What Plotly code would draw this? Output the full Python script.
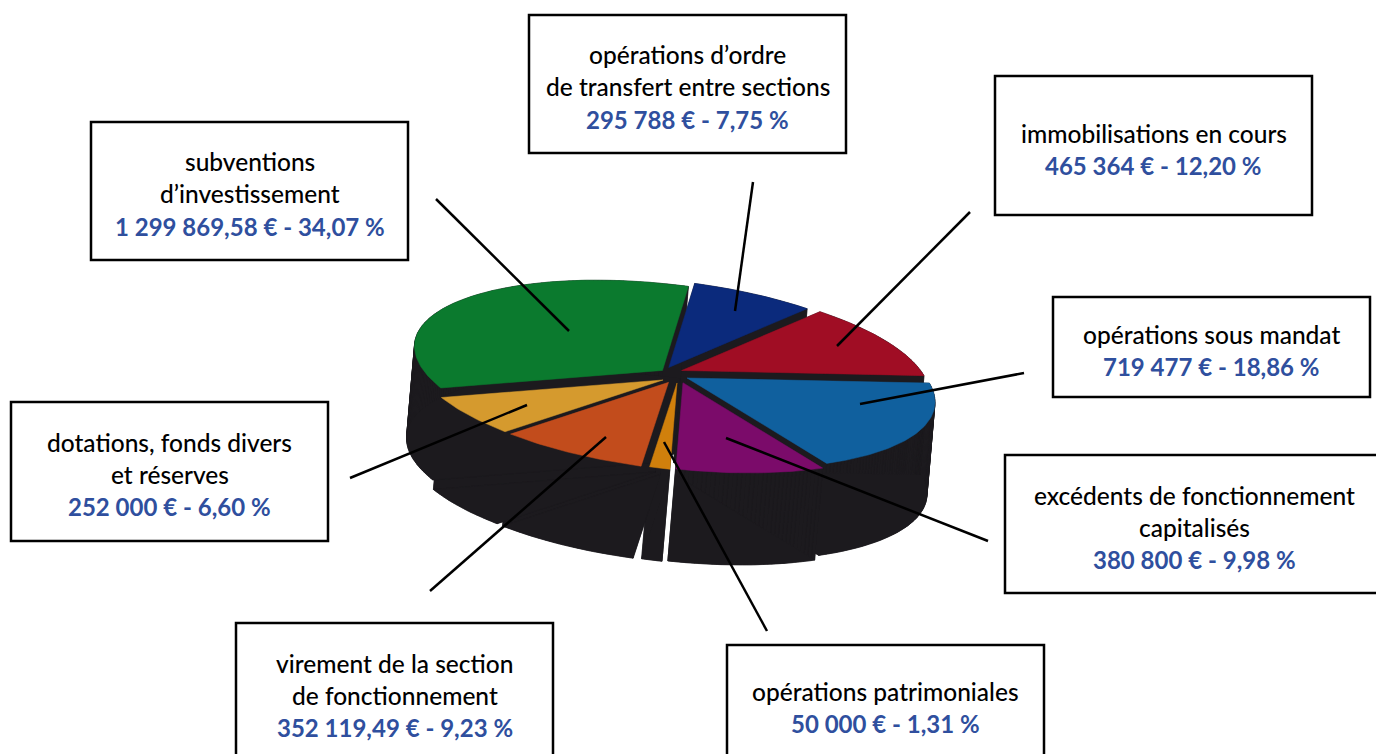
import math
import plotly.graph_objects as go

# --- data, clockwise from the top of the pie
categories = ["opérations d’ordre de transfert entre sections", "immobilisations en cours",
              "opérations sous mandat", "excédents de fonctionnement capitalisés",
              "opérations patrimoniales", "virement de la section de fonctionnement",
              "dotations, fonds divers et réserves", "subventions d’investissement"]
amounts = [295788, 465364, 719477, 380800, 50000, 352119.49, 252000, 1299869.58]
colors = ["#0b2a7c", "#a00d24", "#10609e", "#7b0b6a", "#d0800c", "#c24c1c", "#d59a2e", "#0b7a2e"]
WALL = "#1c1a1e"

# --- projection of the tilted, exploded disc
CX, CY = 674, 375
RX, RY, SHEAR = 248, 87, 0.097
DEPTH_X, DEPTH_Y = -8, 92
EXPL_X, EXPL_Y = 14, 8
START = 6.0
NUDGE_X = [-10, -4, 0, 5, 4, 0, 0, 0]  # per-slice horizontal explosion correction


def project(theta, ox, oy):
    t = math.radians(theta)
    x = RX * math.sin(t)
    y = -RY * math.cos(t) + SHEAR * x
    return CX + ox + x, CY + oy + y


fig = go.Figure()
total = sum(amounts)
tops = []
a0 = START
for value, color, nudge in zip(amounts, colors, NUDGE_X):
    sweep = 360 * value / total
    mid = math.radians(a0 + sweep / 2)
    ox, oy = EXPL_X * math.sin(mid) + nudge, -EXPL_Y * math.cos(mid)
    n = max(3, int(sweep))
    arc = [project(a0 + sweep * i / n, ox, oy) for i in range(n + 1)]
    apex = (CX + ox, CY + oy)
    top = [apex] + arc + [apex]
    low = [(x + DEPTH_X, y + DEPTH_Y) for x, y in top]
    # side wall: every edge of the top face swept down by the depth
    for (x1, y1), (x2, y2), (x3, y3), (x4, y4) in zip(top[:-1], top[1:], low[1:], low[:-1]):
        fig.add_trace(go.Scatter(x=[x1, x2, x3, x4, x1], y=[y1, y2, y3, y4, y1], mode="lines",
                                 fill="toself", fillcolor=WALL, line=dict(color=WALL, width=0.5),
                                 hoverinfo="skip", showlegend=False))
    fig.add_trace(go.Scatter(x=[p[0] for p in low], y=[p[1] for p in low], mode="lines",
                             fill="toself", fillcolor=WALL, line=dict(color=WALL, width=0.5),
                             hoverinfo="skip", showlegend=False))
    tops.append((top, color))
    a0 += sweep

for top, color in tops:
    fig.add_trace(go.Scatter(x=[p[0] for p in top], y=[p[1] for p in top], mode="lines",
                             fill="toself", fillcolor=color, line=dict(color=color, width=0.5),
                             hoverinfo="skip", showlegend=False))

# --- label boxes: box (x0, y0, x1, y1), leader (x0, y0, x1, y1), text lines (text, centre y, blue?)
boxes = [
    ((91, 122, 408, 260), (436, 199, 569, 331),
     [("subventions", 161, 0), ("d’investissement", 193, 0), ("1 299 869,58 € - 34,07 %", 226, 1)]),
    ((529, 15, 846, 153), (753, 182, 735, 311),
     [("opérations d’ordre", 54, 0), ("de transfert entre sections", 86, 0), ("295 788 € - 7,75 %", 119, 1)]),
    ((995, 76, 1312, 215), (970, 212, 837, 346),
     [("immobilisations en cours", 133, 0), ("465 364 € - 12,20 %", 165, 1)]),
    ((1053, 297, 1370, 397), (1024, 373, 860, 404),
     [("opérations sous mandat", 334, 0), ("719 477 € - 18,86 %", 366, 1)]),
    ((1005, 455, 1383, 593), (988, 541, 726, 438),
     [("excédents de fonctionnement", 495, 0), ("capitalisés", 527, 0), ("380 800 € - 9,98 %", 559, 1)]),
    ((727, 645, 1044, 760), (767, 631, 664, 442),
     [("opérations patrimoniales", 691, 0), ("50 000 € - 1,31 %", 723, 1)]),
    ((236, 623, 553, 760), (430, 591, 606, 437),
     [("virement de la section", 663, 0), ("de fonctionnement", 695, 0), ("352 119,49 € - 9,23 %", 727, 1)]),
    ((11, 402, 328, 541), (350, 478, 527, 405),
     [("dotations, fonds divers", 442, 0), ("et réserves", 474, 0), ("252 000 € - 6,60 %", 506, 1)]),
]

shapes, annotations = [], []
for (bx0, by0, bx1, by1), (lx0, ly0, lx1, ly1), lines in boxes:
    shapes.append(dict(type="rect", x0=bx0, y0=by0, x1=bx1, y1=by1, xref="x", yref="y",
                       line=dict(color="#000000", width=2.5), fillcolor="#ffffff", layer="above"))
    shapes.append(dict(type="line", x0=lx0, y0=ly0, x1=lx1, y1=ly1, xref="x", yref="y",
                       line=dict(color="#000000", width=2.5), layer="above"))
    for text, y, blue in lines:
        annotations.append(dict(x=(bx0 + bx1) / 2, y=y, xref="x", yref="y", text=text, showarrow=False,
                                xanchor="center", yanchor="middle",
                                font=dict(family="Lato", size=24 if blue else 24.5,
                                          color="#2f4f9e" if blue else "#000000",
                                          weight=700 if blue else 500)))

fig.update_layout(width=1376, height=754, margin=dict(l=0, r=0, t=0, b=0),
                  paper_bgcolor="#ffffff", plot_bgcolor="#ffffff", showlegend=False,
                  xaxis=dict(range=[0, 1376], visible=False, fixedrange=True),
                  yaxis=dict(range=[754, 0], visible=False, fixedrange=True),
                  shapes=shapes, annotations=annotations)
fig.write_html("out.html", post_script="document.body.style.margin='0';document.body.style.overflow='hidden';",
               config=dict(displayModeBar=False))
